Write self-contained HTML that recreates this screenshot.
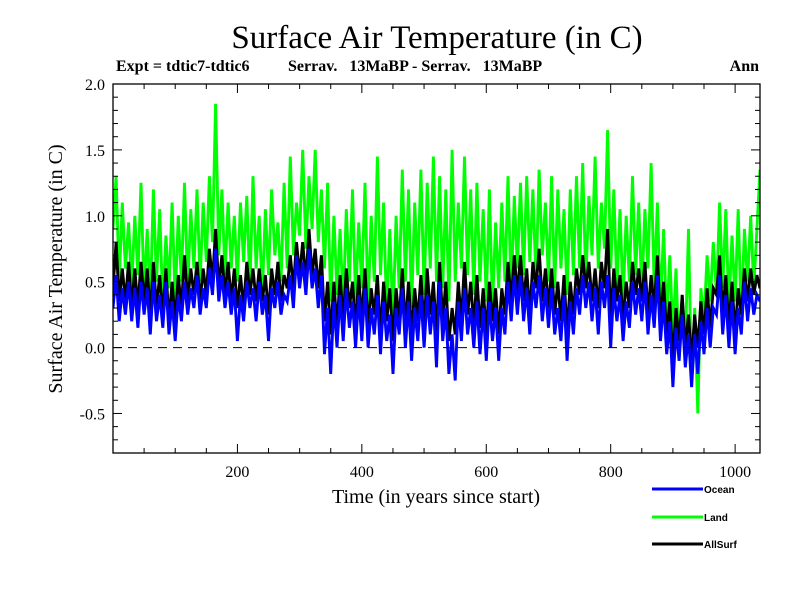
<!DOCTYPE html>
<html><head><meta charset="utf-8">
<style>
html,body{margin:0;padding:0;background:#fff;}
svg{display:block;font-family:"Liberation Serif",serif;}
</style></head>
<body>
<svg id="chart" width="800" height="600" viewBox="0 0 800 600">
  <text x="437" y="48" font-size="33" text-anchor="middle">Surface Air Temperature (in C)</text>
  <text x="116" y="71" font-size="16" font-weight="bold">Expt = tdtic7-tdtic6</text>
  <text x="288" y="71" font-size="16" font-weight="bold" style="white-space:pre">Serrav.   13MaBP - Serrav.   13MaBP</text>
  <text x="759" y="71" font-size="16" font-weight="bold" text-anchor="end">Ann</text>
  <text x="0" y="0" font-size="20" text-anchor="middle" transform="translate(62,269) rotate(-90)">Surface Air Temperature (in C)</text>
  <text x="436" y="503" font-size="20" text-anchor="middle">Time (in years since start)</text>
  <defs><clipPath id="pc"><rect x="113" y="84" width="647" height="369"/></clipPath></defs>
  <g id="series" clip-path="url(#pc)"></g>
  <g id="axes"></g>
  <g font-family="Liberation Sans, sans-serif" font-size="10" font-weight="bold">
    <line x1="652" y1="489" x2="703" y2="489" stroke="#0000ff" stroke-width="3"/>
    <text x="704" y="493">Ocean</text>
    <line x1="652" y1="517" x2="703" y2="517" stroke="#00ff00" stroke-width="3"/>
    <text x="704" y="521">Land</text>
    <line x1="652" y1="544" x2="703" y2="544" stroke="#000" stroke-width="3"/>
    <text x="704" y="548">AllSurf</text>
  </g>
</svg>
<script>
const yearStep = 5;
const xTicks = [200,400,600,800,1000];
const yTicks = [-0.5,0.0,0.5,1.0,1.5,2.0];
const yTickLabels = ["-0.5","0.0","0.5","1.0","1.5","2.0"];
const land = [
0.9,1.3,0.5,1.1,0.6,0.95,0.45,1.0,0.55,1.25,
0.4,0.9,0.35,1.2,0.5,1.05,0.3,0.85,0.45,1.1,
0.35,1.0,0.5,1.25,0.45,1.05,0.6,1.2,0.5,1.1,
0.65,1.3,0.8,1.85,0.7,1.2,0.55,1.1,0.6,1.0,
0.5,1.1,0.65,1.15,0.45,1.3,0.6,1.0,0.4,1.05,
0.55,1.2,0.7,0.95,0.5,1.25,0.6,1.45,0.7,1.1,
0.85,1.5,0.75,1.3,0.9,1.5,0.8,1.2,0.6,1.25,
0.35,1.0,0.4,0.9,0.3,1.05,0.5,1.2,0.35,0.95,
0.45,1.25,0.3,1.0,0.5,1.45,0.55,1.1,0.25,0.9,
0.2,1.0,0.45,1.35,0.5,1.2,0.3,1.1,0.55,1.35,
0.4,1.25,0.6,1.45,0.5,1.3,0.45,1.2,0.35,1.5,
0.5,1.1,0.6,1.45,0.55,1.2,0.4,1.25,0.5,1.05,
0.35,1.2,0.3,0.95,0.45,1.1,0.5,1.3,0.4,1.15,
0.6,1.25,0.55,1.3,0.65,1.2,0.5,1.35,0.7,1.1,
0.5,1.3,0.45,1.2,0.6,1.05,0.4,1.2,0.55,1.3,
0.6,1.4,0.5,1.15,0.7,1.45,0.6,1.1,0.75,1.65,
0.6,1.2,0.45,1.05,0.35,1.0,0.5,1.3,0.55,1.1,
0.4,1.05,0.6,1.4,0.45,1.1,0.3,0.9,0.2,0.7,
0.1,0.6,-0.1,0.4,0.0,0.9,-0.3,0.3,-0.5,0.45,
0.2,0.7,0.35,0.8,0.4,1.1,0.45,1.05,0.3,0.85,
0.35,1.05,0.2,0.9,0.5,1.0,0.45,0.9,1.35];
const ocean = [
0.3,0.55,0.2,0.45,0.25,0.5,0.2,0.45,0.15,0.5,
0.25,0.45,0.1,0.5,0.2,0.4,0.15,0.5,0.1,0.35,
0.05,0.4,0.2,0.5,0.25,0.45,0.3,0.55,0.25,0.45,
0.3,0.6,0.4,0.75,0.35,0.55,0.3,0.5,0.25,0.45,
0.05,0.4,0.2,0.5,0.3,0.45,0.2,0.5,0.25,0.4,
0.05,0.45,0.3,0.5,0.25,0.4,0.35,0.55,0.3,0.7,
0.45,0.65,0.4,0.75,0.45,0.6,0.3,0.55,-0.05,0.3,
-0.2,0.35,0.0,0.4,0.05,0.45,0.15,0.35,0.0,0.4,
0.05,0.45,0.0,0.3,0.1,0.4,-0.05,0.35,0.05,0.25,
-0.2,0.3,0.1,0.45,0.0,0.35,-0.1,0.3,0.05,0.4,
0.0,0.4,0.1,0.35,-0.15,0.5,0.05,0.3,-0.2,0.1,
-0.25,0.35,0.05,0.45,0.1,0.3,0.0,0.35,-0.05,0.3,
-0.1,0.35,0.05,0.3,-0.1,0.3,0.1,0.5,0.2,0.55,
0.25,0.55,0.2,0.45,0.1,0.5,0.3,0.55,0.2,0.45,
0.15,0.45,0.1,0.3,0.05,0.4,-0.1,0.35,0.1,0.45,
0.25,0.55,0.3,0.5,0.2,0.45,0.1,0.5,0.3,0.55,
0.0,0.45,0.2,0.4,0.05,0.35,0.15,0.5,0.25,0.45,
0.2,0.5,0.1,0.4,0.15,0.55,0.05,0.35,-0.05,0.2,
-0.3,0.15,-0.1,0.25,-0.15,0.1,-0.3,0.1,-0.2,0.2,
-0.05,0.3,0.0,0.3,0.25,0.55,0.1,0.4,0.0,0.35,
-0.05,0.3,0.1,0.5,0.2,0.45,0.25,0.4,0.35];
const allSurf = [
0.45,0.8,0.35,0.6,0.35,0.65,0.3,0.6,0.3,0.65,
0.35,0.6,0.25,0.65,0.3,0.55,0.25,0.6,0.2,0.5,
0.2,0.55,0.3,0.7,0.35,0.6,0.4,0.65,0.35,0.6,
0.4,0.75,0.5,0.9,0.45,0.7,0.4,0.65,0.35,0.6,
0.3,0.55,0.3,0.65,0.4,0.6,0.35,0.6,0.35,0.55,
0.25,0.6,0.4,0.65,0.35,0.55,0.45,0.7,0.45,0.8,
0.55,0.8,0.5,0.9,0.55,0.75,0.45,0.7,0.2,0.5,
0.1,0.5,0.15,0.55,0.2,0.6,0.3,0.5,0.15,0.55,
0.2,0.6,0.15,0.45,0.25,0.55,0.1,0.5,0.2,0.45,
0.05,0.45,0.2,0.6,0.15,0.5,0.1,0.45,0.2,0.55,
0.15,0.6,0.25,0.5,0.1,0.65,0.2,0.5,0.05,0.3,
0.1,0.5,0.2,0.65,0.25,0.5,0.15,0.55,0.15,0.45,
0.1,0.5,0.2,0.45,0.1,0.45,0.25,0.65,0.35,0.7,
0.4,0.7,0.35,0.6,0.25,0.65,0.45,0.75,0.35,0.6,
0.3,0.6,0.25,0.5,0.2,0.55,0.1,0.5,0.25,0.6,
0.4,0.7,0.45,0.65,0.35,0.6,0.3,0.65,0.45,0.9,
0.2,0.6,0.35,0.55,0.2,0.5,0.3,0.65,0.4,0.6,
0.35,0.65,0.25,0.55,0.3,0.7,0.2,0.5,0.1,0.35,
-0.1,0.3,0.05,0.4,0.0,0.25,-0.1,0.25,0.0,0.35,
0.1,0.45,0.15,0.45,0.4,0.7,0.25,0.55,0.15,0.5,
0.1,0.45,0.25,0.6,0.35,0.6,0.4,0.55,0.45];

const NS = "http://www.w3.org/2000/svg";
const L = 113, R = 760, T = 84, B = 453;
const X0 = 0, X1 = 1040, Y0 = -0.8, Y1 = 2.0;
function xs(v){ return L + (v - X0) / (X1 - X0) * (R - L); }
function ys(v){ return B - (v - Y0) / (Y1 - Y0) * (B - T); }
function mk(tag, attrs, parent){
  const e = document.createElementNS(NS, tag);
  for (const k in attrs) e.setAttribute(k, attrs[k]);
  parent.appendChild(e);
  return e;
}
const series = document.getElementById('series');
const axes = document.getElementById('axes');

const zl = mk('line', {x1:L, x2:R, y1:ys(0), y2:ys(0), stroke:'#000', 'stroke-width':1, 'stroke-dasharray':'9,6'}, axes);



function drawSeries(vals, color, name){
  const pts = vals.map((v,i) => xs(i*yearStep).toFixed(1) + ',' + ys(v).toFixed(1)).join(' ');
  const p = mk('polyline', {points:pts, fill:'none', stroke:color, 'stroke-width':2.9, 'stroke-linejoin':'miter'}, series);
  
  
}
drawSeries(land, '#00ff00', 'land-series');
drawSeries(allSurf, '#000000', 'allsurf-series');
drawSeries(ocean, '#0000ff', 'ocean-series');

const fr = mk('rect', {x:L, y:T, width:R-L, height:B-T, fill:'none', stroke:'#000', 'stroke-width':1.3}, axes);



for (let v = 50; v < X1; v += 50){
  const major = v % 200 === 0;
  const len = major ? 9 : 5;
  const t1 = mk('line', {x1:xs(v), x2:xs(v), y1:B, y2:B-len, stroke:'#000', 'stroke-width':1}, axes);
  
  
  const t2 = mk('line', {x1:xs(v), x2:xs(v), y1:T, y2:T+len, stroke:'#000', 'stroke-width':1}, axes);
  
  
}
xTicks.forEach(v => {
  const t = mk('text', {x:xs(v), y:B+24, 'font-size':16, 'text-anchor':'middle'}, axes);
  t.textContent = String(v);
  
  
});
for (let k = -7; k <= 19; k++){
  const v = k / 10;
  const major = k % 5 === 0;
  const len = major ? 9 : 5;
  const t1 = mk('line', {x1:L, x2:L+len, y1:ys(v), y2:ys(v), stroke:'#000', 'stroke-width':1}, axes);
  
  
  const t2 = mk('line', {x1:R, x2:R-len, y1:ys(v), y2:ys(v), stroke:'#000', 'stroke-width':1}, axes);
  
  
}
yTicks.forEach((v,i) => {
  const t = mk('text', {x:L-8, y:ys(v)+6, 'font-size':16, 'text-anchor':'end'}, axes);
  t.textContent = yTickLabels[i];
  
  
});
</script>
</body></html>
